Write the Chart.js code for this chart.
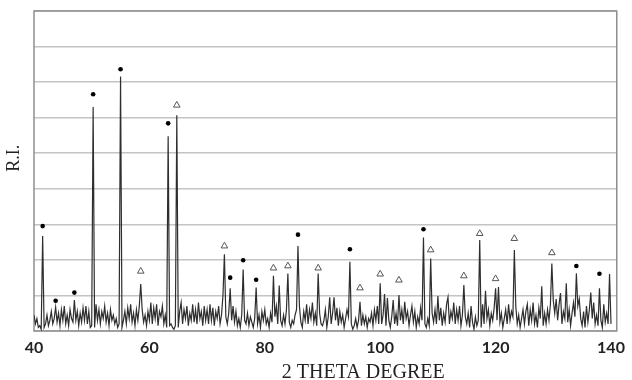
<!DOCTYPE html>
<html>
<head>
<meta charset="utf-8">
<script src="https://cdn.jsdelivr.net/npm/chart.js@4.4.1/dist/chart.umd.min.js"></script>
<style>
  html, body { margin: 0; padding: 0; background: #fff; }
  #wrap { width: 632px; height: 380px; position: relative; }
</style>
</head>
<body>
<div id="wrap"><canvas id="xrd"></canvas></div>
<script>
// scan: first angle and step (2 theta, degrees)
const startAngle = 40;
const stepAngle = 0.25;

// relative intensity, one value per step, 5 degrees per row
const intensity = [
  0.45, 0.2, 0.35, 0.1, 0.15, 0.05, 2.67, 0.1, 0.2, 0.45, 0.15, 0.3, 0.55, 0.2, 0.35, 0.67, 0.25, 0.5, 0.15, 0.6,
  0.3, 0.7, 0.2, 0.45, 0.15, 0.6, 0.35, 0.25, 0.87, 0.3, 0.55, 0.15, 0.5, 0.25, 0.65, 0.3, 0.7, 0.2, 0.55, 0.1,
  0.15, 6.3, 0.1, 0.75, 0.3, 0.6, 0.2, 0.55, 0.35, 0.7, 0.25, 0.5, 0.15, 0.6, 0.3, 0.45, 0.2, 0.35, 0.1, 0.2,
  7.16, 0.1, 0.3, 0.55, 0.2, 0.65, 0.35, 0.75, 0.25, 0.5, 0.15, 0.6, 0.3, 0.7, 1.32, 0.6, 0.25, 0.45, 0.15, 0.55,
  0.3, 0.8, 0.2, 0.65, 0.35, 0.75, 0.15, 0.55, 0.4, 0.7, 0.2, 0.45, 0.1, 5.48, 0.15, 0.2, 0.1, 0.05, 0.15, 6.07,
  0.1, 0.55, 0.8, 0.2, 0.6, 0.35, 0.7, 0.15, 0.5, 0.3, 0.75, 0.25, 0.6, 0.2, 0.8, 0.35, 0.55, 0.15, 0.7, 0.3,
  0.6, 0.2, 0.75, 0.3, 0.65, 0.15, 0.55, 0.35, 0.7, 0.2, 0.45, 1.0, 2.16, 0.4, 0.2, 0.5, 1.2, 0.3, 0.7, 0.25,
  0.55, 0.15, 0.35, 0.1, 0.45, 1.73, 0.3, 0.2, 0.5, 0.15, 0.4, 0.25, 0.1, 0.35, 1.22, 0.2, 0.45, 0.1, 0.55, 0.3,
  0.6, 0.2, 0.35, 0.1, 0.5, 0.25, 1.55, 0.4, 0.7, 0.2, 1.28, 0.3, 0.15, 0.45, 0.2, 0.6, 1.62, 0.25, 0.1, 0.3,
  0.2, 0.45, 0.6, 2.39, 0.7, 0.25, 0.1, 0.55, 0.3, 0.75, 0.2, 0.6, 0.35, 0.8, 0.25, 0.5, 0.15, 1.62, 0.5, 0.2,
  0.15, 0.3, 0.6, 0.1, 0.4, 0.95, 0.2, 0.5, 0.95, 0.3, 0.65, 0.15, 0.55, 0.25, 0.45, 0.1, 0.35, 0.6, 0.4, 1.95,
  0.2, 0.05, 0.15, 0.35, 0.1, 0.3, 0.82, 0.15, 0.45, 0.2, 0.4, 0.1, 0.35, 0.25, 0.5, 0.15, 0.6, 0.3, 0.7, 0.2,
  1.34, 0.2, 0.45, 1.04, 0.15, 0.93, 0.3, 0.1, 0.4, 0.87, 0.2, 0.5, 0.15, 1.01, 0.3, 0.6, 0.2, 0.82, 0.35, 0.55,
  0.15, 0.45, 0.7, 0.25, 0.55, 0.1, 0.4, 0.2, 0.65, 0.3, 2.63, 0.2, 0.1, 0.35, 0.15, 2.04, 0.5, 0.25, 0.6, 0.2,
  0.98, 0.3, 0.65, 0.15, 0.5, 0.25, 0.75, 0.95, 0.2, 0.55, 0.35, 0.8, 0.2, 0.6, 0.3, 0.7, 0.15, 0.45, 1.29, 0.4,
  0.2, 0.5, 0.1, 0.7, 0.25, 0.05, 0.4, 0.15, 0.3, 2.56, 0.1, 0.75, 0.2, 1.13, 0.35, 0.6, 0.15, 0.5, 0.3, 0.65,
  1.2, 0.3, 1.24, 0.25, 0.5, 0.1, 0.35, 0.6, 0.2, 0.75, 0.3, 0.55, 0.4, 2.28, 0.7, 0.2, 0.45, 0.1, 0.35, 0.6,
  0.2, 0.55, 0.75, 0.15, 0.6, 0.3, 0.8, 0.2, 0.45, 0.1, 0.65, 0.35, 1.26, 0.15, 0.5, 0.2, 0.6, 0.3, 0.75, 1.9,
  0.85, 0.5, 0.9, 0.3, 0.75, 1.07, 0.2, 0.55, 0.35, 1.34, 0.25, 0.6, 0.15, 0.5, 0.8, 0.4, 1.62, 0.7, 0.9, 0.35,
  0.15, 0.55, 0.1, 0.7, 0.25, 0.6, 1.08, 0.35, 0.8, 0.2, 0.45, 0.15, 1.2, 0.3, 0.1, 0.75, 0.25, 0.5, 0.2, 1.6,
  0.2
];

// peak markers: angle and height where the symbol sits
const dotAngles = [41.5, 43.75, 47.0, 50.25, 55.0, 63.25, 74.0, 76.25, 78.5, 85.75, 94.75, 107.5, 134.0, 138.0];
const dotHeights = [2.95, 0.85, 1.08, 6.66, 7.36, 5.84, 1.5, 1.99, 1.44, 2.71, 2.3, 2.86, 1.83, 1.61];
const triAngles = [58.5, 64.75, 73.0, 81.5, 84.0, 89.25, 96.5, 100.0, 103.25, 108.75, 114.5, 117.25, 120.0, 123.25, 129.75];
const triHeights = [1.68, 6.35, 2.39, 1.77, 1.83, 1.77, 1.21, 1.6, 1.43, 2.28, 1.55, 2.74, 1.47, 2.6, 2.2];

const xTicks = [40, 60, 80, 100, 120, 140];
const xTitle = "2 THETA DEGREE";
const yTitle = "R.I.";

const scan = intensity.map((v, i) => ({ x: startAngle + i * stepAngle, y: v }));
const dots = dotAngles.map((a, i) => ({ x: a, y: dotHeights[i] }));
const tris = triAngles.map((a, i) => ({ x: a, y: triHeights[i] }));

// box round the plot, and both axis titles (they sit off centre in the original)
const frame = {
  id: "frame",
  beforeDatasetsDraw(chart) {
    const a = chart.chartArea;
    const ctx = chart.ctx;
    ctx.save();
    ctx.strokeStyle = "#8f8f8f";
    ctx.lineWidth = 1.5;
    ctx.strokeRect(a.left, a.top, a.right - a.left, a.bottom - a.top);
    ctx.restore();
  },
  afterDraw(chart) {
    const a = chart.chartArea;
    const ctx = chart.ctx;
    ctx.save();
    ctx.fillStyle = "#222";
    ctx.textAlign = "center";
    ctx.font = "20px 'Liberation Serif'";
    ctx.textBaseline = "alphabetic";
    ctx.fillText(xTitle, a.left + (a.right - a.left) * 0.565, 378);
    ctx.translate(14, a.top + (a.bottom - a.top) * 0.46);
    ctx.rotate(-Math.PI / 2);
    ctx.font = "18px 'Liberation Serif'";
    ctx.textBaseline = "middle";
    ctx.fillText(yTitle, 0, 0);
    ctx.restore();
  }
};

new Chart(document.getElementById("xrd"), {
  type: "scatter",
  data: {
    datasets: [
      {
        data: scan,
        showLine: true,
        borderColor: "#2e2e2e",
        borderWidth: 1.2,
        pointRadius: 0,
        tension: 0,
        order: 2
      },
      {
        data: dots,
        pointStyle: "circle",
        pointRadius: 2.3,
        backgroundColor: "#000",
        borderColor: "#000",
        borderWidth: 0,
        order: 1
      },
      {
        data: tris,
        pointStyle: "triangle",
        pointRadius: 3.8,
        backgroundColor: "#fff",
        borderColor: "#555",
        borderWidth: 1,
        order: 1
      }
    ]
  },
  options: {
    responsive: true,
    maintainAspectRatio: false,
    animation: false,
    layout: { padding: { top: 11, right: 9, left: 0, bottom: 0 } },
    plugins: {
      legend: { display: false },
      tooltip: { enabled: false }
    },
    scales: {
      x: {
        type: "linear",
        min: 40,
        max: 141,
        afterBuildTicks: (s) => { s.ticks = xTicks.map(v => ({ value: v })); },
        afterFit: (s) => { s.height = 49; },
        grid: { display: false, drawTicks: false },
        border: { display: false },
        ticks: {
          padding: 7,
          color: "#222",
          font: { family: "Lato", size: 16, weight: "bold" },
          maxRotation: 0
        }
      },
      y: {
        min: 0,
        max: 9,
        afterFit: (s) => { s.width = 34; },
        ticks: { display: false, stepSize: 1 },
        grid: { color: "#c4c4c4", lineWidth: 1.5, drawTicks: false },
        border: { display: false }
      }
    }
  },
  plugins: [frame]
});
</script>
</body>
</html>
